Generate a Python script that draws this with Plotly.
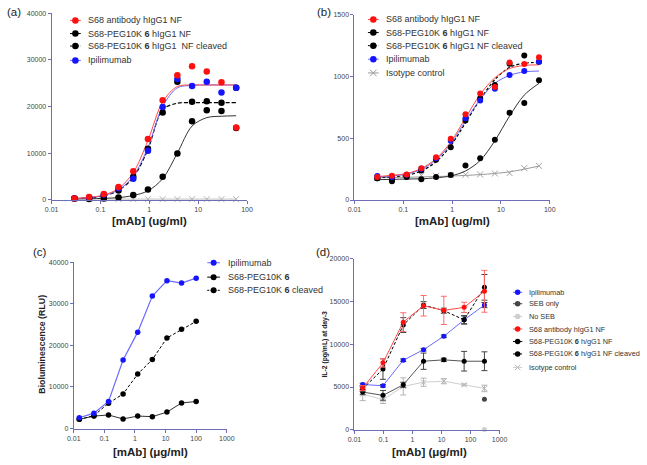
import plotly.graph_objects as go

# ================= DATA =================
# panel (a) – binding ELISA
xa = [0.0293, 0.0586, 0.117, 0.234, 0.469, 0.9375, 1.875, 3.75, 7.5, 15, 30, 60]
a_red = [280, 560, 1200, 2750, 6100, 13000, 21300, 26700, 28600, 27500, 25200, 15500]
a_peg = [280, 140, 280, 500, 1000, 2200, 4900, 9900, 16800, 19200, 19000, 15400]
a_clv = [280, 400, 800, 2000, 4900, 10900, 18700, 25300, 21000, 21100, 20800, 24000]
a_ipi = [280, 450, 1100, 2450, 4500, 10500, 19900, 25900, 24400, 25300, 23000, 24000]
a_iso = [120, 120, 120, 120, 120, 120, 120, 120, 120, 120, 120, 120]
# fitted curves (read at the same concentrations)
a_red_fit = [280, 500, 1000, 2400, 5800, 12700, 21000, 24300, 24600, 24600, 24600, 24600]
a_ipi_fit = [250, 450, 900, 2100, 5000, 11200, 20000, 24000, 24500, 24600, 24600, 24600]
a_clv_fit = [200, 400, 850, 2000, 4800, 10800, 19300, 20700, 20800, 20800, 20800, 20800]
a_peg_fit = [150, 200, 300, 450, 900, 1900, 4500, 10000, 15800, 17600, 17900, 18000]

# panel (b)
xb = [0.0293, 0.0586, 0.117, 0.234, 0.469, 0.9375, 1.875, 3.75, 7.5, 15, 30, 60]
b_red = [186, 197, 207, 258, 346, 497, 694, 862, 915, 1114, 1101, 1157]
b_peg = [176, 152, 186, 168, 186, 202, 279, 338, 489, 707, 785, 971]
b_clv = [176, 170, 190, 239, 327, 428, 644, 824, 931, 1104, 1170, 1120]
b_ipi = [194, 186, 205, 253, 338, 479, 662, 806, 901, 1013, 1045, 1120]
b_iso = [180, 185, 190, 200, 195, 202, 205, 207, 215, 218, 258, 277]
b_red_fit = [190, 200, 215, 255, 335, 470, 665, 855, 990, 1065, 1090, 1095]
b_ipi_fit = [185, 195, 210, 248, 325, 455, 640, 815, 945, 1010, 1038, 1045]
b_clv_fit = [180, 188, 200, 235, 310, 440, 625, 815, 975, 1075, 1108, 1115]
b_peg_fit = [165, 167, 170, 172, 180, 195, 235, 320, 480, 680, 850, 945]
b_iso_fit = [180, 182, 184, 187, 190, 194, 199, 206, 215, 228, 250, 275]

# panel (c) – bioluminescence
xc = [0.0152, 0.0457, 0.137, 0.41, 1.23, 3.7, 11.1, 33.3, 100]
c_ipi = [2600, 3700, 6500, 16500, 23200, 31900, 35600, 35000, 36200]
c_peg = [2200, 3000, 3250, 2300, 3000, 2850, 3950, 6150, 6500]
c_clv = [2200, 3100, 6100, 8300, 13100, 16600, 21800, 23900, 25800]

# panel (d) – IL-2
xd = [0.0192, 0.096, 0.48, 2.4, 12, 60, 300]
d_ipi = [5300, 5150, 8140, 9370, 10940, 12860, 14590]
d_ipi_err = [150, 150, 150, 150, 150, 450, 300]
d_red = [4880, 7830, 12590, 14510, 13970, 14320, 16200]
d_red_err = [300, 500, 1100, 1200, 1650, 600, 2450]
d_clv = [4800, 7100, 12250, 14590, 13930, 12860, 16660]
d_clv_err = [300, 1200, 870, 400, 300, 500, 1500]
d_peg = [4410, 4030, 5260, 8020, 8180, 8020, 8020]
d_peg_err = [300, 570, 300, 950, 200, 1150, 1100]
d_iso = [4180, 3530, 5070, 5570, 5680, 5260, 4840]
d_iso_err = [770, 450, 1000, 480, 300, 100, 380]
d_seb_x = [300]
d_seb = [3570]
d_noseb_x = [300]
d_noseb = [40]

# tick labels
ticks_ab = [0.01, 0.1, 1, 10, 100]
ticks_cd = [0.01, 0.1, 1, 10, 100, 1000]
tick_text_ab = ["0.01", "0.1", "1", "10", "100"]
tick_text_cd = ["0.01", "0.1", "1", "10", "100", "1000"]
minor_ticks_ab = [m * 10 ** e for e in (-2, -1, 0, 1) for m in range(2, 10)]

# ================= STYLE =================
W, H = 647, 465
FONT = "Liberation Sans, Arial, sans-serif"
AX = "#6d6db8"
RED = "#ff1010"
RED_L = "#ff4a4a"
BLUE = "#1414ff"
BLUE_L = "#6a6aff"
BLK = "#000000"
BLK_L = "#333333"
GREY = "#b4b4b4"
GREY_D = "#454545"
GREY_LL = "#cfcfcf"
TXT = "#333333"

fig = go.Figure()


def px_x(v):
    return v / W


def px_y(v):
    return 1 - v / H


def line_tr(x, y, ax, color, width=1, dash="solid", shape="spline"):
    fig.add_trace(go.Scatter(x=x, y=y, mode="lines", xaxis="x" + ax, yaxis="y" + ax,
                             line=dict(color=color, width=width, dash=dash, shape=shape, smoothing=0.9),
                             showlegend=False, hoverinfo="skip", cliponaxis=False))


def mark_tr(x, y, ax, color, size, symbol="circle", err=None, errcolor=None, mode="markers",
            lcolor=None, lwidth=1, dash="solid"):
    m = dict(color=color, size=size, symbol=symbol)
    if symbol.startswith("x"):
        m["line"] = dict(color=color, width=1)
    kw = {}
    if err is not None:
        kw["error_y"] = dict(type="data", array=err, color=errcolor or color, thickness=1, width=3)
    fig.add_trace(go.Scatter(x=x, y=y, mode=mode, xaxis="x" + ax, yaxis="y" + ax, marker=m,
                             line=dict(color=lcolor or color, width=lwidth, dash=dash),
                             showlegend=False, cliponaxis=False, **kw))


# ----- panel (a) -----
line_tr(xa, a_iso, "", GREY)
mark_tr(xa, a_iso, "", GREY, 6, "x-thin")
line_tr(xa, a_peg_fit, "", BLK_L)
line_tr(xa, a_clv_fit, "", BLK, 1.2, "4px,2px")
line_tr(xa, a_ipi_fit, "", BLUE_L)
line_tr(xa, a_red_fit, "", RED_L)
mark_tr(xa, a_peg, "", BLK, 6.5)
mark_tr(xa, a_clv, "", BLK, 6.5)
mark_tr(xa, a_ipi, "", BLUE, 6.5)
mark_tr(xa, a_red, "", RED, 6.5)

# ----- panel (b) -----
line_tr(xb, b_iso_fit, "2", "#999999")
mark_tr(xb, b_iso, "2", "#a0a0a0", 6, "x-thin")
line_tr(xb, b_peg_fit, "2", BLK_L)
line_tr(xb, b_clv_fit, "2", BLK, 1.2, "3px,2px")
line_tr(xb, b_ipi_fit, "2", BLUE_L)
line_tr(xb, b_red_fit, "2", RED_L)
mark_tr(xb, b_peg, "2", BLK, 6)
mark_tr(xb, b_clv, "2", BLK, 6)
mark_tr(xb, b_ipi, "2", BLUE, 6)
mark_tr(xb, b_red, "2", RED, 6)

# ----- panel (c) -----
mark_tr(xc, c_peg, "3", BLK, 5.5, mode="lines+markers", lcolor=BLK_L)
mark_tr(xc, c_clv, "3", BLK, 5.5, mode="lines+markers", lcolor=BLK, dash="3px,2px")
mark_tr(xc, c_ipi, "3", BLUE, 5.5, mode="lines+markers", lcolor=BLUE_L, lwidth=1.2)

# ----- panel (d) -----
mark_tr(xd, d_iso, "4", GREY, 5, "x-thin", err=d_iso_err, mode="lines+markers", lcolor=GREY_LL)
mark_tr(xd, d_peg, "4", BLK, 5, err=d_peg_err, errcolor=GREY_D, mode="lines+markers", lcolor="#555555")
mark_tr(xd, d_ipi, "4", BLUE, 5, err=d_ipi_err, errcolor="#444444", mode="lines+markers", lcolor=BLUE_L)
mark_tr(xd, d_clv, "4", BLK, 5, err=d_clv_err, errcolor=GREY_D, mode="lines+markers", lcolor=BLK, dash="3px,2px")
mark_tr(xd, d_red, "4", RED, 5, err=d_red_err, errcolor="#ff6a6a", mode="lines+markers", lcolor=RED_L)
mark_tr(d_seb_x, d_seb, "4", GREY_D, 5)
mark_tr(d_noseb_x, d_noseb, "4", GREY_LL, 5)

# ================= LEGENDS (drawn on an overlay pixel axis) =================
annotations = []


def leg_entry(x0, x1, y, text, color, lcolor, size, fsize, symbol="circle", dash="solid", gap=5):
    fig.add_trace(go.Scatter(x=[x0, x1], y=[y, y], mode="lines", xaxis="x5", yaxis="y5",
                             line=dict(color=lcolor, width=1, dash=dash), showlegend=False, hoverinfo="skip"))
    m = dict(color=color, size=size, symbol=symbol)
    if symbol.startswith("x"):
        m["line"] = dict(color=color, width=1)
    fig.add_trace(go.Scatter(x=[(x0 + x1) / 2], y=[y], mode="markers", xaxis="x5", yaxis="y5",
                             marker=m, showlegend=False, hoverinfo="skip"))
    annotations.append(dict(x=px_x(x1 + gap), y=px_y(y), xref="paper", yref="paper", text=text,
                            showarrow=False, xanchor="left", yanchor="middle",
                            font=dict(size=fsize, color=TXT, family=FONT)))


leg_a = [("S68 antibody hIgG1 NF", RED, RED_L, "solid", "circle"),
         ("S68-PEG10K <b>6</b> hIgG1 NF", BLK, BLK, "solid", "circle"),
         ("S68-PEG10K <b>6</b> hIgG1  NF cleaved", BLK, BLK, "2px,1.5px", "circle"),
         ("Ipilimumab", BLUE, BLUE_L, "solid", "circle")]
for (t, c, lc, d, s), yy in zip(leg_a, [16.7, 30, 42.7, 57.3]):
    leg_entry(64.5, 75.5, yy, t, c, lc, 6.5, 9, s, d)

leg_b = [("S68 antibody hIgG1 NF", RED, RED_L, "solid", "circle"),
         ("S68-PEG10K <b>6</b> hIgG1 NF", BLK, BLK, "solid", "circle"),
         ("S68-PEG10K <b>6</b> hIgG1 NF cleaved", BLK, BLK, "2px,1.5px", "circle"),
         ("Ipilimumab", BLUE, BLUE_L, "solid", "circle"),
         ("Isotype control", "#9a9a9a", "#9a9a9a", "solid", "x-thin")]
for (t, c, lc, d, s), yy in zip(leg_b, [15.7, 29, 42.3, 56, 70]):
    leg_entry(369.5, 380.5, yy, t, c, lc, 6.5, 9, s, d)

leg_c = [("Ipilimumab", BLUE, BLUE_L, "solid"),
         ("S68-PEG10K <b>6</b>", BLK, BLK, "solid"),
         ("S68-PEG10K <b>6</b> cleaved", BLK, BLK, "2px,1.5px")]
for (t, c, lc, d), yy in zip(leg_c, [262.7, 277.3, 290.7]):
    leg_entry(205, 218, yy, t, c, lc, 6, 9, "circle", d, gap=6)

leg_d = [("Ipilimumab", BLUE, BLUE_L, "solid", "circle"),
         ("SEB only", GREY_D, GREY_D, "solid", "circle"),
         ("No SEB", GREY_LL, GREY_LL, "solid", "circle"),
         ("S68 antibody hIgG1 NF", RED, RED_L, "solid", "circle"),
         ("S68-PEG10K <b>6</b> h/gG1 NF", BLK, BLK, "solid", "circle"),
         ("S68-PEG10K <b>6</b> h/gG1 NF cleaved", BLK, BLK, "2px,1.5px", "circle"),
         ("Isotype control", GREY, GREY_LL, "solid", "x-thin")]
for (t, c, lc, d, s), yy in zip(leg_d, [292.7, 304.3, 317.3, 330, 342.7, 355.3, 369]):
    leg_entry(518, 527.5, yy, t, c, lc, 5.5, 7.3, s, d)

# ================= TEXT =================
for txt, x, y in [("(a)", 7.5, 7.8), ("(b)", 324.5, 8.3), ("(c)", 34, 252), ("(d)", 324, 252)]:
    annotations.append(dict(x=px_x(x), y=px_y(y), xref="paper", yref="paper", text=txt,
                            showarrow=False, xanchor="center", yanchor="middle",
                            font=dict(size=11.5, color="#222222", family=FONT)))

for txt, x, y in [("<b>[mAb] (ug/ml)</b>", 145.7, 220), ("<b>[mAb] (ug/ml)</b>", 455.7, 220),
                  ("<b>[mAb] (μg/ml)</b>", 146.7, 454.5), ("<b>[mAb] (μg/ml)</b>", 432.5, 454.5)]:
    annotations.append(dict(x=px_x(x), y=px_y(y), xref="paper", yref="paper", text=txt,
                            showarrow=False, xanchor="center", yanchor="middle",
                            font=dict(size=11.5, color="#222222", family=FONT)))

annotations.append(dict(x=px_x(35.7), y=px_y(345), xref="paper", yref="paper",
                        text="<b>Bioluminescence (RLU)</b>", textangle=-90, showarrow=False,
                        xanchor="center", yanchor="middle", font=dict(size=8.8, color="#222222", family=FONT)))
annotations.append(dict(x=px_x(325.3), y=px_y(345), xref="paper", yref="paper",
                        text="<b>IL-2 (pg/mL) at day-3</b>", textangle=-90, showarrow=False,
                        xanchor="center", yanchor="middle", font=dict(size=6.8, color="#222222", family=FONT)))

# ================= AXES =================
tickfont = dict(size=7, color="#444444", family=FONT)


def xax(domain, rng, tv, tt, anchor):
    return dict(type="log", domain=domain, range=rng, tickvals=tv, ticktext=tt, anchor=anchor,
                showline=True, linecolor=AX, linewidth=1, ticks="outside", ticklen=3, tickcolor=AX,
                showgrid=False, zeroline=False, tickfont=tickfont, fixedrange=True)


def xminor(domain, overlay, anchor):
    return dict(type="log", domain=domain, range=[-2, 2], tickvals=minor_ticks_ab,
                ticktext=[""] * len(minor_ticks_ab), overlaying=overlay, anchor=anchor, side="bottom",
                showline=False, ticks="outside", ticklen=2, tickcolor=AX, showgrid=False,
                zeroline=False, fixedrange=True)


def yax(domain, rng, dt, anchor):
    return dict(domain=domain, range=rng, dtick=dt, tickformat="d", anchor=anchor,
                showline=True, linecolor=AX, linewidth=1, ticks="outside", ticklen=3, tickcolor=AX,
                showgrid=False, zeroline=False, tickfont=tickfont, fixedrange=True)


dom_a = [45.7 / W, 245.7 / W]
dom_b = [355.7 / W, 555.7 / W]
fig.update_layout(
    width=W, height=H, margin=dict(l=0, r=0, t=0, b=0),
    paper_bgcolor="white", plot_bgcolor="rgba(0,0,0,0)", showlegend=False,
    font=dict(family=FONT),
    xaxis=xax(dom_a, [-2, 2], ticks_ab, tick_text_ab, "y"),
    yaxis=yax([1 - 198.7 / H, 1 - 9.3 / H], [0, 40000], 10000, "x"),
    xaxis2=xax(dom_b, [-2, 2], ticks_ab, tick_text_ab, "y2"),
    yaxis2=yax([1 - 199 / H, 1 - 11 / H], [0, 1500], 500, "x2"),
    xaxis3=xax([68.3 / W, 225 / W], [-2, 3], ticks_cd, tick_text_cd, "y3"),
    yaxis3=yax([1 - 431 / H, 1 - 262.3 / H], [0, 40000], 10000, "x3"),
    xaxis4=xax([355.7 / W, 504.3 / W], [-2, 3], ticks_cd, tick_text_cd, "y4"),
    yaxis4=yax([1 - 432.3 / H, 1 - 258.7 / H], [0, 20000], 5000, "x4"),
    xaxis5=dict(domain=[0, 1], range=[0, W], visible=False, anchor="y5", fixedrange=True),
    yaxis5=dict(domain=[0, 1], range=[H, 0], visible=False, anchor="x5", fixedrange=True),
    xaxis6=xminor(dom_a, "x", "y"),
    xaxis7=xminor(dom_b, "x2", "y2"),
    annotations=annotations,
)

fig.write_html("out.html")
